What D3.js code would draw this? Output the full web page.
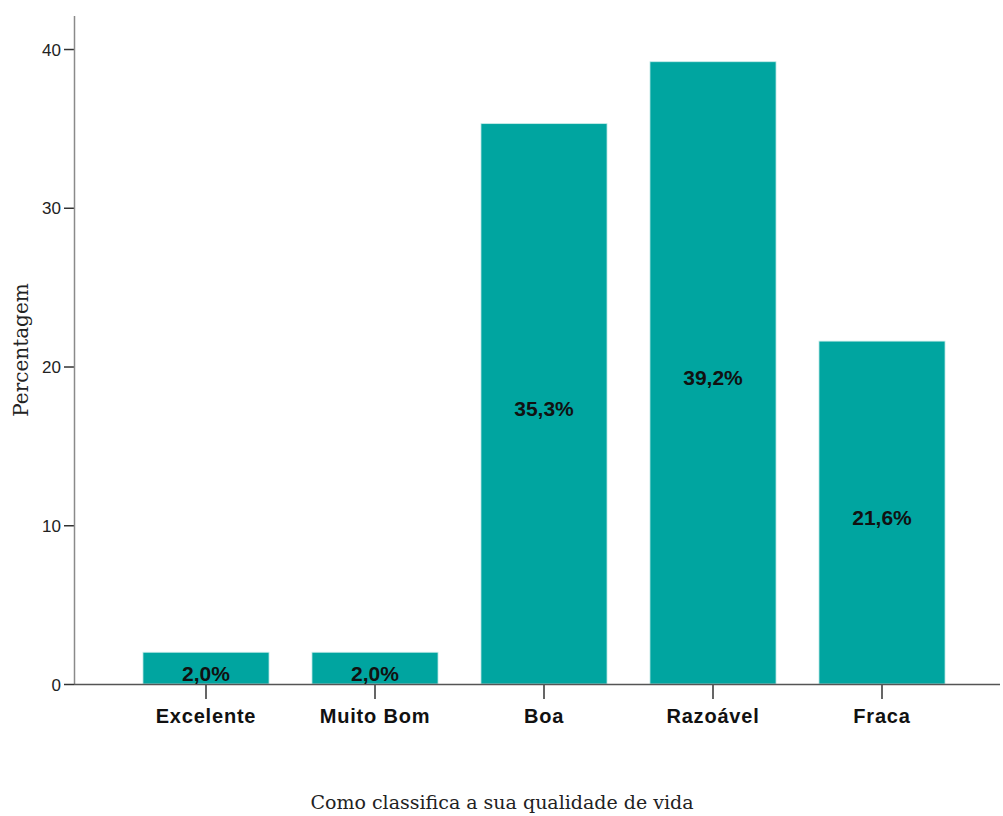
<!DOCTYPE html>
<html><head><meta charset="utf-8">
<script src="https://cdn.jsdelivr.net/npm/d3@7"></script>
<style>body{margin:0;background:#fff}</style>
</head><body>
<svg id="c" width="1003" height="816"></svg>
<script>
const categories = ["Excelente", "Muito Bom", "Boa", "Razoável", "Fraca"];
const values = [2.0, 2.0, 35.3, 39.2, 21.6];
const valueLabels = ["2,0%", "2,0%", "35,3%", "39,2%", "21,6%"];
const yTicks = [0, 10, 20, 30, 40];
const xTitle = "Como classifica a sua qualidade de vida";
const yTitle = "Percentagem";

const svg = d3.select("#c");
const y = d3.scaleLinear().domain([0, 42.08]).range([684, 16]);
const x = d3.scaleBand().domain(categories).range([121.5, 966.5]).paddingInner(0.254).paddingOuter(0.127);

// bars
svg.selectAll("rect.bar").data(values).join("rect")
  .attr("class","bar")
  .attr("x",(d,i)=>x(categories[i]))
  .attr("width",x.bandwidth())
  .attr("y",d=>y(d))
  .attr("height",d=>y(0)-y(d))
  .attr("fill","#00a5a0")
  .attr("stroke","#c8ecea").attr("stroke-width",0.8);

// y axis
const yAxis = d3.axisLeft(y).tickValues(yTicks).tickSize(10).tickPadding(3).tickFormat(d3.format("d"));
const gy = svg.append("g").attr("transform","translate(74,0)").call(yAxis);
gy.select(".domain").remove();
gy.selectAll(".tick line").attr("stroke","#333").attr("stroke-width",1.5);
gy.selectAll(".tick text").attr("font-family","Liberation Sans, Arial, sans-serif").attr("font-size",17).attr("fill","#222").attr("dy","0.36em");
svg.append("line").attr("x1",74.5).attr("x2",74.5).attr("y1",y.range()[1]).attr("y2",y(0)).attr("stroke","#8a8a8a").attr("stroke-width",1.5);

// x axis
const xAxis = d3.axisBottom(x).tickSize(15).tickPadding(6);
const gx = svg.append("g").attr("transform",`translate(0,${y(0)})`).call(xAxis);
gx.select(".domain").remove();
gx.selectAll(".tick line").attr("stroke","#333").attr("stroke-width",1.5);
gx.selectAll(".tick text").attr("font-family","Liberation Sans, Arial, sans-serif").attr("font-weight","bold").attr("font-size",20).attr("letter-spacing","0.8px").attr("fill","#111").attr("dy","0.9em");
svg.append("line").attr("x1",74).attr("x2",1000).attr("y1",y(0)+0.5).attr("y2",y(0)+0.5).attr("stroke","#555").attr("stroke-width",1.3);

// value labels
svg.selectAll("text.vl").data(values).join("text")
  .attr("class","vl")
  .attr("x",(d,i)=>x(categories[i])+x.bandwidth()/2)
  .attr("y",d=>(y(d)+y(0))/2+12.5)
  .attr("text-anchor","middle")
  .attr("font-family","Liberation Sans, Arial, sans-serif").attr("font-weight","bold").attr("font-size",21)
  .attr("fill","#111")
  .text((d,i)=>valueLabels[i]);

// titles
svg.append("text").attr("x",502).attr("y",809).attr("text-anchor","middle")
  .attr("font-family","DejaVu Serif, serif").attr("font-size",19).attr("fill","#222").text(xTitle);
svg.append("text").attr("transform","translate(28,350) rotate(-90)").attr("text-anchor","middle")
  .attr("font-family","DejaVu Serif, serif").attr("font-size",20).attr("fill","#222").text(yTitle);
</script>
</body></html>
